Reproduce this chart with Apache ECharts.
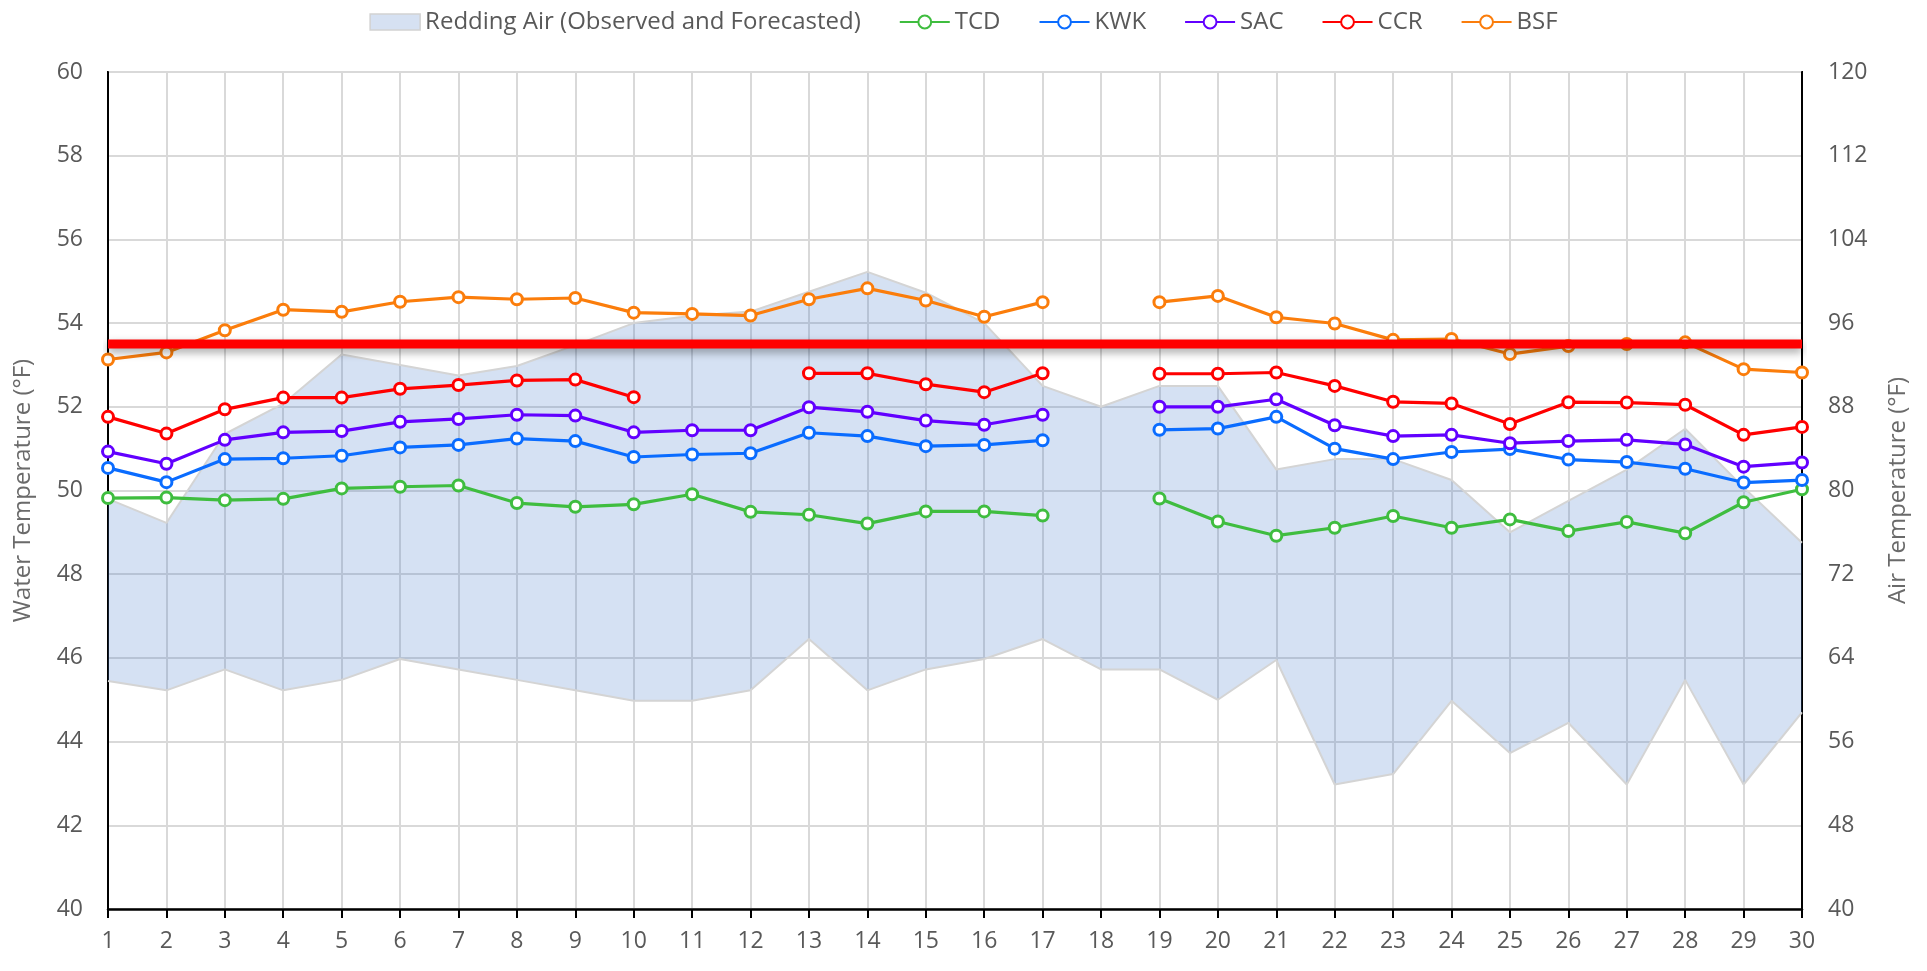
<!DOCTYPE html>
<html>
<head>
<meta charset="utf-8">
<script src="https://cdn.jsdelivr.net/npm/echarts@6/dist/echarts.min.js"></script>
<style>
html,body{margin:0;padding:0;background:#fff;}
#chart{width:1927px;height:971px;}
</style>
</head>
<body>
<div id="chart"></div>
<script>
const days = ['1','2','3','4','5','6','7','8','9','10','11','12','13','14','15','16','17','18','19','20','21','22','23','24','25','26','27','28','29','30'];

const airHigh = [79.2,76.9,85.4,88.3,93.0,92.0,91.0,91.9,93.9,96.0,96.7,97.1,99.0,100.9,98.9,96.0,90.0,88.0,90.0,90.0,82.0,83.0,83.0,81.0,76.0,79.0,82.0,85.9,80.3,75.0];
const airLow  = [61.8,60.9,62.9,60.9,61.9,63.9,62.9,61.9,60.9,59.9,59.9,60.9,65.8,60.9,62.9,63.9,65.8,62.9,62.9,60.0,63.8,51.9,52.9,59.9,54.9,57.8,51.9,61.9,51.9,58.8];

const tcd = [49.82,49.83,49.77,49.80,50.05,50.09,50.12,49.70,49.61,49.67,49.91,49.49,49.42,49.21,49.50,49.50,49.40,null,49.81,49.26,48.92,49.11,49.39,49.11,49.31,49.03,49.25,48.98,49.72,50.03];
const kwk = [50.54,50.20,50.75,50.77,50.83,51.03,51.09,51.24,51.18,50.80,50.86,50.89,51.38,51.30,51.06,51.09,51.20,null,51.45,51.48,51.76,51.00,50.75,50.92,50.99,50.74,50.68,50.52,50.19,50.25];
const sac = [50.93,50.64,51.21,51.39,51.42,51.64,51.71,51.81,51.79,51.39,51.44,51.44,51.99,51.88,51.67,51.57,51.81,null,52.00,52.00,52.18,51.56,51.30,51.33,51.13,51.18,51.21,51.10,50.57,50.67];
const ccr = [51.76,51.36,51.94,52.22,52.22,52.43,52.52,52.63,52.65,52.23,null,null,52.80,52.80,52.54,52.35,52.80,null,52.79,52.79,52.82,52.50,52.12,52.08,51.59,52.11,52.10,52.05,51.33,51.52];
const bsf = [53.13,53.30,53.83,54.32,54.27,54.51,54.62,54.57,54.60,54.25,54.22,54.18,54.57,54.83,54.54,54.15,54.50,null,54.50,54.65,54.14,53.99,53.60,53.62,53.26,53.45,53.50,53.54,52.90,52.82];
const threshold = [53.5,53.5,53.5,53.5,53.5,53.5,53.5,53.5,53.5,53.5,53.5,53.5,53.5,53.5,53.5,53.5,53.5,53.5,53.5,53.5,53.5,53.5,53.5,53.5,53.5,53.5,53.5,53.5,53.5,53.5];

const waterTicks = {min:40, max:60, interval:2};
const airTicks = {min:40, max:120, interval:8};

const airName = 'Redding Air (Observed and Forecasted)';
const FONT = '"Open Sans", "Noto Sans", sans-serif';
const labelColor = '#595959';

const airDiff = airHigh.map((h, i) => +(h - airLow[i]).toFixed(2));

function waterSeries(name, data, color) {
  return {
    name: name, type: 'line', data: data, yAxisIndex: 0,
    connectNulls: false,
    symbol: 'circle', symbolSize: 11,
    lineStyle: {color: color, width: 3.2},
    itemStyle: {color: '#ffffff', borderColor: color, borderWidth: 3},
    z: 5
  };
}

const chart = echarts.init(document.getElementById('chart'), null, {renderer: 'canvas'});
chart.setOption({
  animation: false,
  backgroundColor: '#ffffff',
  textStyle: {fontFamily: FONT},
  legend: {
    top: 5, left: 'center',
    itemWidth: 50, itemHeight: 16, itemGap: 38,
    textStyle: {fontSize: 24, color: labelColor, fontFamily: FONT},
    data: [
      {name: airName, icon: 'rect', itemStyle: {color: '#d6e1f2', borderColor: '#d2d2d2', borderWidth: 1.5}},
      {name: 'TCD'}, {name: 'KWK'}, {name: 'SAC'}, {name: 'CCR'}, {name: 'BSF'}
    ]
  },
  grid: {
    left: 108, right: 125, top: 72, bottom: 62,
    show: true, borderColor: '#000', borderWidth: 2, backgroundColor: 'transparent'
  },
  xAxis: {
    type: 'category', data: days, boundaryGap: false,
    axisLine: {show: true, lineStyle: {color: '#000', width: 2.5}},
    axisTick: {show: true, length: 9, lineStyle: {color: '#000', width: 2}},
    axisLabel: {fontSize: 23, color: labelColor, margin: 21, fontFamily: FONT},
    splitLine: {show: true, lineStyle: {color: '#d9d9d9', width: 2}}
  },
  yAxis: [
    {
      type: 'value', position: 'left',
      min: waterTicks.min, max: waterTicks.max, interval: waterTicks.interval,
      name: 'Water Temperature (°F)', nameLocation: 'middle', nameGap: 73, nameRotate: 90,
      nameTextStyle: {fontSize: 24, color: '#6a6a6a', fontFamily: FONT},
      axisLine: {show: true, lineStyle: {color: '#000', width: 2}},
      axisTick: {show: false},
      axisLabel: {fontSize: 23, color: labelColor, margin: 25, fontFamily: FONT},
      splitLine: {show: true, lineStyle: {color: '#d9d9d9', width: 2}}
    },
    {
      type: 'value', position: 'right',
      min: airTicks.min, max: airTicks.max, interval: airTicks.interval,
      name: 'Air Temperature (°F)', nameLocation: 'middle', nameGap: 84, nameRotate: 90,
      nameTextStyle: {fontSize: 24, color: '#6a6a6a', fontFamily: FONT},
      axisLine: {show: true, lineStyle: {color: '#000', width: 2}},
      axisTick: {show: false},
      axisLabel: {fontSize: 23, color: labelColor, margin: 26, fontFamily: FONT},
      splitLine: {show: false}
    }
  ],
  series: [
    {
      name: 'airLow', type: 'line', yAxisIndex: 1, stack: 'air', data: airLow,
      symbol: 'none', lineStyle: {color: '#d4d4d4', width: 2},
      areaStyle: {opacity: 0}, z: 1, silent: true
    },
    {
      name: airName, type: 'line', yAxisIndex: 1, stack: 'air', data: airDiff,
      symbol: 'none', lineStyle: {color: '#d4d4d4', width: 2},
      itemStyle: {color: '#d6e1f2'},
      areaStyle: {color: 'rgba(74,126,204,0.23)', opacity: 1}, z: 1
    },
    waterSeries('TCD', tcd, '#3fbd3f'),
    waterSeries('KWK', kwk, '#0a6cff'),
    waterSeries('SAC', sac, '#6200ff'),
    waterSeries('CCR', ccr, '#ff0000'),
    waterSeries('BSF', bsf, '#fb7d0b'),
    {
      name: 'Threshold', type: 'line', yAxisIndex: 0, data: threshold,
      symbol: 'none',
      lineStyle: {color: '#ff0000', width: 9, cap: 'butt',
        shadowColor: 'rgba(0,0,0,0.35)', shadowBlur: 8, shadowOffsetY: 4},
      z: 10, silent: true
    }
  ]
});
</script>
</body>
</html>
